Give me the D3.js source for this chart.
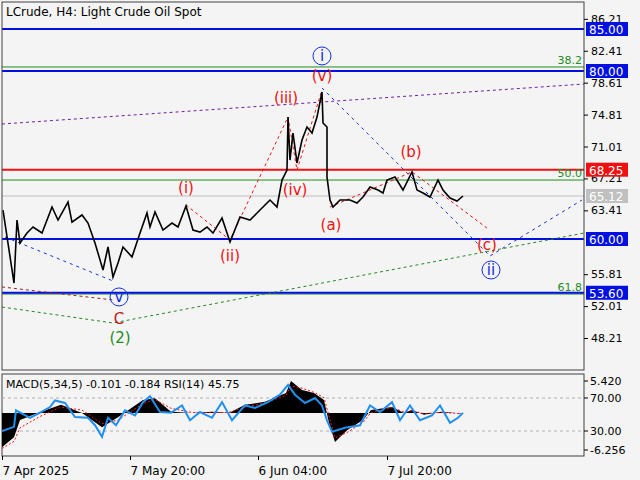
<!DOCTYPE html>
<html>
<head>
<meta charset="utf-8">
<script src="https://cdn.jsdelivr.net/npm/d3@7"></script>
<style>
  body { margin: 0; background: #f4f4f4; }
  svg { font-family: "DejaVu Sans", sans-serif; }
</style>
</head>
<body>
<div id="chart"></div>
<script>
// price (bar index, close)
const bars = [1, 12, 15, 18, 25, 31, 40, 50, 56, 66, 70, 80, 86, 93, 101, 106, 111, 116, 121, 130, 138, 145, 148, 153, 161, 170, 176, 184, 191, 198, 205, 211, 220, 228, 230, 238, 248, 258, 268, 275, 280, 285, 286, 288, 291, 295, 300, 305, 310, 315, 320, 321, 325, 325, 328, 331, 338, 348, 355, 361, 368, 376, 381, 385, 393, 401, 410, 415, 421, 428, 436, 441, 448, 455, 461];
const closes = [63.45, 54.76, 62.26, 59.52, 60.71, 61.43, 60.71, 63.81, 62.26, 64.40, 62.02, 62.86, 61.90, 59.52, 56.31, 59.05, 55.48, 57.14, 59.05, 57.86, 60.71, 63.10, 61.43, 63.21, 61.07, 61.90, 61.43, 63.93, 61.07, 60.83, 61.43, 60.71, 62.50, 59.64, 60.24, 62.62, 62.26, 63.45, 64.64, 63.81, 67.02, 68.21, 74.52, 69.40, 72.62, 69.05, 71.79, 73.33, 72.62, 74.52, 77.50, 73.81, 73.33, 67.38, 64.64, 63.81, 64.64, 64.64, 64.29, 65.00, 66.19, 65.83, 65.48, 67.02, 67.38, 65.83, 67.98, 65.83, 65.48, 65.00, 67.02, 65.83, 64.88, 64.52, 65.12];

// MACD histogram and signal
const macdBars = [0, 12, 18, 39, 59, 80, 100, 116, 141, 153, 169, 190, 210, 227, 243, 263, 284, 289, 300, 312, 322, 327, 333, 345, 361, 369, 390, 402, 410, 422, 439, 459];
const macdValues = [-5.8, -4.1, -1.2, 0.2, 1.4, 0.0, -2.4, -0.7, 2.2, 2.5, 0.2, 0.0, 0.2, 0.0, 1.4, 1.9, 3.4, 5.4, 3.9, 3.4, 2.2, -1.7, -4.9, -2.9, -1.2, 0.5, 1.0, 0.0, 0.5, -0.3, 0.2, -0.1];
const signalValues = [-6.0, -4.8, -2.5, -0.5, 1.0, 0.5, -1.8, -1.2, 1.6, 2.3, 0.8, 0.1, 0.1, 0.1, 1.0, 1.7, 3.0, 4.6, 4.2, 3.5, 2.6, -0.5, -4.2, -3.3, -1.6, 0.1, 0.9, 0.2, 0.4, -0.1, 0.1, -0.1];

// RSI
const rsiBars = [0, 12, 14, 28, 39, 48, 53, 63, 73, 86, 93, 100, 106, 114, 123, 133, 141, 148, 158, 169, 180, 188, 198, 210, 220, 230, 243, 253, 266, 278, 286, 293, 303, 313, 320, 325, 330, 343, 358, 368, 378, 390, 398, 408, 418, 430, 438, 448, 456, 461];
const rsiValues = [30, 35, 55, 46, 53, 59, 67, 64, 47, 46, 37, 23, 46, 37, 55, 49, 65, 72, 53, 52, 61, 43, 53, 46, 65, 43, 61, 58, 65, 74, 86, 74, 64, 70, 61, 43, 29, 34, 37, 61, 53, 65, 43, 61, 43, 49, 61, 40, 46, 52];

// levels
const blueLevels = [85.00, 80.00, 60.00, 53.60];
const redLevel = 68.25;
const lastPrice = 65.12;
const fibLevels = [80.48, 67.02, 53.45];
const fibNames = ["38.2", "50.0", "61.8"];
const priceTicks = [86.21, 82.41, 78.61, 74.81, 71.01, 67.21, 63.41, 55.81, 52.01, 48.21];
const dateTicks = [0, 128, 256, 385];
const dateLabels = ["7 Apr 2025", "7 May 20:00", "6 Jun 04:00", "7 Jul 20:00"];

// wave lines [bar, price]
const waveBlueV = [[3, 60.24], [111, 55.0]];
const waveBlueII = [[320, 77.98], [488, 57.98], [580, 64.64]];
const waveRedImp = [[184, 64.05], [228, 59.88], [286, 74.52], [295, 68.21], [320, 77.74]];
const waveRedAbc = [[328, 63.81], [410, 67.98], [485, 61.3]];
const purpleLine = [[0, 73.69], [582, 78.45]];
const greenLine = [[0, 51.9], [111, 50.0], [582, 60.71]];
const darkRedLine = [[0, 54.29], [111, 52.74]];

// wave labels [bar, price, text, colour, circled]
const waveLabels = [
  [320, 81.79, "i", "#1030e0", true],
  [320, 79.4, "(v)", "#f01010", false],
  [284, 76.79, "(iii)", "#f01010", false],
  [293, 65.83, "(iv)", "#f01010", false],
  [184, 66.07, "(i)", "#f01010", false],
  [228, 57.98, "(ii)", "#f01010", false],
  [329, 61.67, "(a)", "#f01010", false],
  [409, 70.36, "(b)", "#f01010", false],
  [485, 59.29, "(c)", "#f01010", false],
  [489, 56.31, "ii", "#1030e0", true],
  [117, 53.1, "v", "#1030e0", true],
  [117, 50.48, "C", "#c02020", false],
  [118, 48.21, "(2)", "#228b22", false]
];

const W = 640, H = 480;
const svg = d3.select("#chart").append("svg").attr("width", W).attr("height", H);
svg.append("rect").attr("width", W).attr("height", H).attr("fill", "#f4f4f4");

const x = d3.scaleLinear().domain([0, 582]).range([2, 584]);
const y = d3.scaleLinear().domain([80, 60]).range([71, 239]);
const yM = d3.scaleLinear().domain([5.42, -6.256]).range([381, 450]);
const yR = d3.scaleLinear().domain([70, 30]).range([398, 431]);

// panels
const main = svg.append("g");
main.append("clipPath").attr("id", "clipMain").append("rect").attr("x", 2).attr("y", 2).attr("width", 582).attr("height", 368);
svg.append("clipPath").attr("id", "clipInd").append("rect").attr("x", 2).attr("y", 374).attr("width", 582).attr("height", 82);
const plot = main.append("g").attr("clip-path", "url(#clipMain)");

// horizontal levels
plot.append("line").attr("x1", 2).attr("x2", 584).attr("y1", y(lastPrice)).attr("y2", y(lastPrice)).attr("stroke", "#c0c0c0");
fibLevels.forEach(v => {
  plot.append("line").attr("x1", 2).attr("x2", 584).attr("y1", y(v)).attr("y2", y(v)).attr("stroke", "#228b22");
});
blueLevels.forEach(v => {
  plot.append("line").attr("x1", 2).attr("x2", 584).attr("y1", y(v)).attr("y2", y(v)).attr("stroke", "#0010e0").attr("stroke-width", 2);
});
plot.append("line").attr("x1", 2).attr("x2", 584).attr("y1", y(redLevel)).attr("y2", y(redLevel)).attr("stroke", "#f01010").attr("stroke-width", 2);

fibLevels.forEach((v, i) => {
  plot.append("text").attr("x", 582).attr("y", y(v) - 3).attr("text-anchor", "end")
    .attr("font-size", 11).attr("fill", "#228b22").text(fibNames[i]);
});

// trend lines
const line = d3.line().x(d => x(d[0])).y(d => y(d[1]));
const drawLine = (pts, col, dash) => plot.append("path").attr("d", line(pts)).attr("fill", "none")
  .attr("stroke", col).attr("stroke-width", 1).attr("stroke-dasharray", dash);
drawLine(purpleLine, "#7020a0", "3,3");
drawLine(greenLine, "#228b22", "3,3");
drawLine(darkRedLine, "#a02020", "3,3");
drawLine(waveBlueV, "#1030e0", "3,4");
drawLine(waveBlueII, "#1030e0", "3,4");
drawLine(waveRedImp, "#f01010", "3,3");
drawLine(waveRedAbc, "#f01010", "3,3");

// price
const priceData = bars.map((b, i) => [b, closes[i]]);
plot.append("path").attr("d", line(priceData)).attr("fill", "none").attr("stroke", "#000").attr("stroke-width", 1.6);

// wave labels
waveLabels.forEach(([b, p, t, col, circ]) => {
  if (circ) {
    plot.append("circle").attr("cx", x(b)).attr("cy", y(p)).attr("r", 9)
      .attr("fill", "none").attr("stroke", col).attr("stroke-width", 1);
  }
  plot.append("text").attr("x", x(b)).attr("y", y(p) + 5).attr("text-anchor", "middle")
    .attr("font-size", 15).attr("fill", col).text(t);
});

// borders
svg.append("rect").attr("x", 2).attr("y", 2).attr("width", 582).attr("height", 368).attr("fill", "none").attr("stroke", "#404040");
svg.append("rect").attr("x", 2).attr("y", 374).attr("width", 582).attr("height", 82).attr("fill", "none").attr("stroke", "#404040");

svg.append("text").attr("x", 6).attr("y", 16).attr("font-size", 12).attr("fill", "#000").text("LCrude, H4:  Light Crude Oil Spot");

// right price axis
svg.append("g").attr("transform", "translate(584,0)")
  .call(d3.axisRight(y).tickValues(priceTicks).tickFormat(d3.format(".2f")).tickSize(4))
  .call(g => g.select(".domain").remove())
  .call(g => g.selectAll("text").attr("font-size", 11).attr("font-family", "DejaVu Sans").attr("fill", "#000"));

// value boxes
const boxes = blueLevels.map(v => [v, "#0010e0", "#fff"]).concat([[redLevel, "#f01010", "#fff"], [lastPrice, "#c0c0c0", "#fff"]]);
boxes.forEach(([v, bg, fg]) => {
  svg.append("rect").attr("x", 586).attr("y", y(v) - 7).attr("width", 42).attr("height", 14).attr("fill", bg);
  svg.append("text").attr("x", 589).attr("y", y(v) + 5).attr("font-size", 12).attr("fill", fg).text(v.toFixed(2));
});

// indicator panel
const ind = svg.append("g").attr("clip-path", "url(#clipInd)");
[70, 30].forEach(v => {
  ind.append("line").attr("x1", 2).attr("x2", 584).attr("y1", yR(v)).attr("y2", yR(v))
    .attr("stroke", "#b0b0b0").attr("stroke-dasharray", "3,3");
});
const macdData = macdBars.map((b, i) => [b, macdValues[i]]);
ind.append("path").datum(macdData)
  .attr("d", d3.area().x(d => x(d[0])).y0(yM(0)).y1(d => yM(d[1]))).attr("fill", "#000");
ind.append("path").datum(macdBars.map((b, i) => [b, signalValues[i]]))
  .attr("d", d3.line().x(d => x(d[0])).y(d => yM(d[1]))).attr("fill", "none")
  .attr("stroke", "#f01010").attr("stroke-dasharray", "2,2");
ind.append("path").datum(rsiBars.map((b, i) => [b, rsiValues[i]]))
  .attr("d", d3.line().x(d => x(d[0])).y(d => yR(d[1]))).attr("fill", "none")
  .attr("stroke", "#2090f0").attr("stroke-width", 2);

svg.append("text").attr("x", 6).attr("y", 388).attr("font-size", 11).attr("fill", "#000")
  .text("MACD(5,34,5) -0.101 -0.184 RSI(14) 45.75");

const indTicks = [[381, "5.420"], [yR(70), "70.00"], [yR(30), "30.00"], [450, "-6.256"]];
indTicks.forEach(([py, t]) => {
  svg.append("line").attr("x1", 584).attr("x2", 588).attr("y1", py).attr("y2", py).attr("stroke", "#000");
  svg.append("text").attr("x", 590).attr("y", py + 4).attr("font-size", 11).attr("fill", "#000").text(t);
});

// date axis
svg.append("g").attr("transform", "translate(0,456)")
  .call(d3.axisBottom(x).tickValues(dateTicks).tickFormat((d, i) => dateLabels[i]).tickSize(4))
  .call(g => g.select(".domain").remove())
  .call(g => g.selectAll("text").attr("font-size", 12).attr("font-family", "DejaVu Sans")
    .attr("fill", "#000").attr("text-anchor", "start").attr("dy", "1.0em"));
</script>
</body>
</html>
